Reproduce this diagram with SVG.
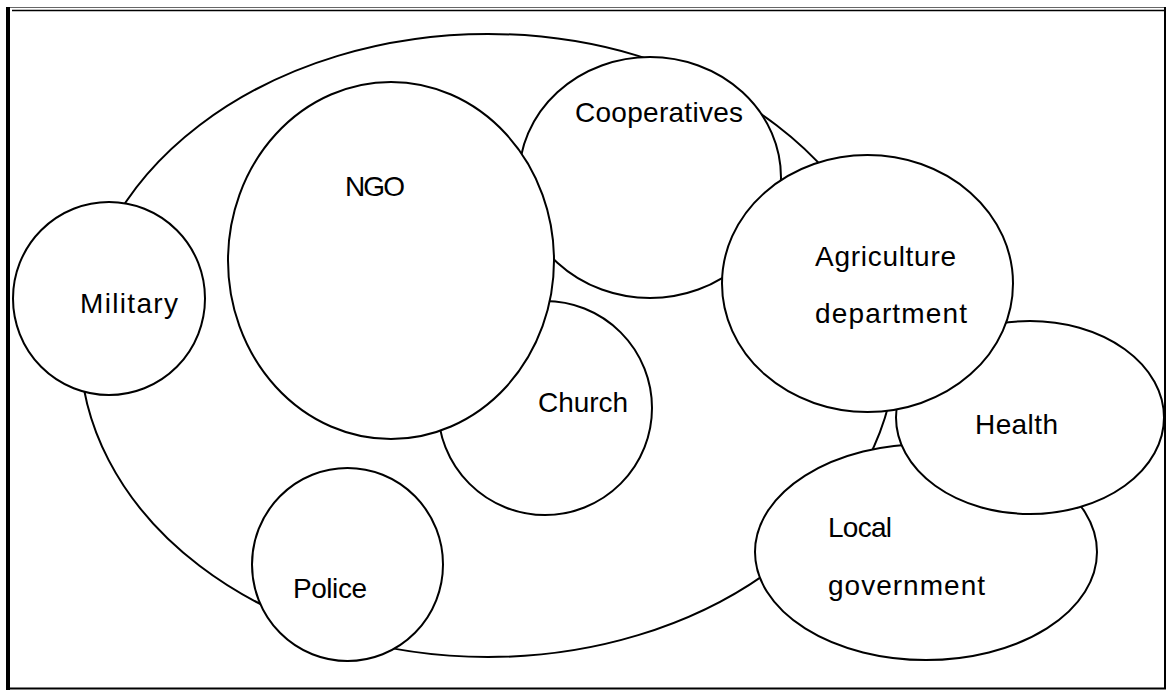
<svg xmlns="http://www.w3.org/2000/svg" width="1171" height="690" viewBox="0 0 1171 690">
  <style>
    .shape { fill: #ffffff; stroke: #000000; stroke-width: 2; }
    .label { font-family: "Liberation Sans", Arial, sans-serif; font-size: 28px; fill: #000000; }
    .frame { stroke: #000000; fill: none; }
  </style>
  <rect x="0" y="0" width="1171" height="690" fill="#ffffff"/>
  <g id="frame">
    <line class="frame" x1="6" y1="7.5" x2="1166" y2="7.5" stroke-width="1" style="stroke:#666666"/>
    <line class="frame" x1="12" y1="10.5" x2="1165" y2="10.5" stroke-width="1.5"/>
    <rect x="6" y="7" width="4" height="683" fill="#000000"/>
    <line class="frame" x1="1165" y1="7" x2="1165" y2="689" stroke-width="2"/>
    <line class="frame" x1="6" y1="688.5" x2="1166" y2="688.5" stroke-width="2"/>
  </g>
  <g id="community">
    <ellipse class="shape" cx="488" cy="345.5" rx="408" ry="311.5"/>
  </g>
  <g id="military">
    <ellipse class="shape" cx="109" cy="298.5" rx="96" ry="96.5"/>
    <text class="label" x="80" y="313" textLength="98">Military</text>
  </g>
  <g id="police">
    <ellipse class="shape" cx="347.5" cy="564.5" rx="95.5" ry="96.5"/>
    <text class="label" x="293" y="598" textLength="74">Police</text>
  </g>
  <g id="cooperatives">
    <ellipse class="shape" cx="650" cy="177.5" rx="131" ry="120.5"/>
    <text class="label" x="575" y="122" textLength="168">Cooperatives</text>
  </g>
  <g id="church">
    <ellipse class="shape" cx="545" cy="408" rx="107" ry="107"/>
    <text class="label" x="538" y="412" textLength="90">Church</text>
  </g>
  <g id="ngo">
    <ellipse class="shape" cx="391" cy="260.5" rx="163" ry="178.5"/>
    <text class="label" x="345" y="196" textLength="60">NGO</text>
  </g>
  <g id="local-government">
    <ellipse class="shape" cx="926" cy="552" rx="171" ry="108"/>
    <text class="label" x="828" y="537" textLength="64">Local</text>
    <text class="label" x="828" y="595" textLength="157">government</text>
  </g>
  <g id="health">
    <ellipse class="shape" cx="1030" cy="417.5" rx="134" ry="96.5"/>
    <text class="label" x="975" y="434" textLength="83">Health</text>
  </g>
  <g id="agriculture-department">
    <ellipse class="shape" cx="867.5" cy="283.5" rx="145.5" ry="128.5"/>
    <text class="label" x="815" y="266" textLength="141">Agriculture</text>
    <text class="label" x="815" y="323" textLength="152">department</text>
  </g>
</svg>
